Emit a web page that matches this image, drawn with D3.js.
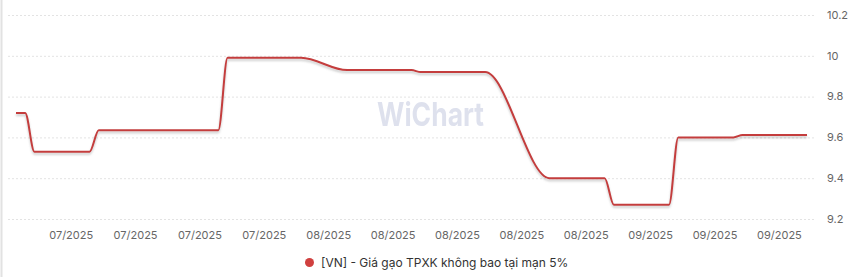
<!DOCTYPE html>
<html lang="vi">
<head>
<meta charset="UTF-8">
<script src="https://d3js.org/d3.v7.min.js"></script>
<style>
    body { margin: 0; background: #fff; font-family: Inter, Roboto, sans-serif; }
    .grid line { stroke: #e3e3e3; stroke-dasharray: 2,2; }
    .tick-label { fill: #666; font-size: 11px; }
</style>
<title>Giá gạo</title>
</head>
<body>
<svg id="chart"></svg>
<script>
    // ngày thay đổi giá
    var dates = ["2025-06-28", "2025-06-29", "2025-06-30", "2025-07-06", "2025-07-07",
        "2025-07-20", "2025-07-21", "2025-07-29", "2025-08-03", "2025-08-10",
        "2025-08-11", "2025-08-18", "2025-08-25", "2025-08-31", "2025-09-01",
        "2025-09-07", "2025-09-08", "2025-09-14", "2025-09-15", "2025-09-22"]
    var prices = [9.72, 9.72, 9.53, 9.53, 9.635,
        9.635, 9.99, 9.99, 9.93, 9.93,
        9.92, 9.92, 9.40, 9.40, 9.27,
        9.27, 9.60, 9.60, 9.612, 9.612]
    var xTicks = ["2025-07-04", "2025-07-11", "2025-07-18", "2025-07-25",
        "2025-08-01", "2025-08-08", "2025-08-15", "2025-08-22", "2025-08-29",
        "2025-09-05", "2025-09-12", "2025-09-19"]
    var yTicks = [9.2, 9.4, 9.6, 9.8, 10, 10.2]
    var seriesName = "[VN] - Giá gạo TPXK không bao tại mạn 5%"

    var width = 855, height = 277
    var parse = d3.timeParse("%Y-%m-%d")
    var data = dates.map(function (d, i) { return {date: parse(d), value: prices[i]} })

    var svg = d3.select("#chart").attr("width", width).attr("height", height)

    var defs = svg.append("defs")
    var f = defs.append("filter").attr("id", "shadow")
        .attr("x", "-5%").attr("y", "-20%").attr("width", "110%").attr("height", "140%")
    f.append("feDropShadow").attr("dx", 0).attr("dy", 2).attr("stdDeviation", 1)
        .attr("flood-color", "#777").attr("flood-opacity", 0.4)

    // viền trái
    svg.append("line").attr("x1", 1.5).attr("x2", 1.5).attr("y1", 0).attr("y2", height)
        .attr("stroke", "#e2e2e2").attr("stroke-width", 2)

    var x = d3.scaleTime()
        .domain([parse("2025-06-28"), parse("2025-09-22")])
        .range([16, 807])
    var y = d3.scaleLinear().domain([9.2, 10.2]).range([219, 15])

    // lưới ngang
    svg.append("g").attr("class", "grid")
        .selectAll("line").data(yTicks).enter().append("line")
        .attr("x1", 8).attr("x2", 815)
        .attr("y1", function (d) { return y(d) + 0.5 })
        .attr("y2", function (d) { return y(d) + 0.5 })

    // nhãn trục y
    svg.append("g").selectAll("text").data(yTicks).enter().append("text")
        .attr("class", "tick-label")
        .attr("x", 827)
        .attr("y", function (d) { return y(d) })
        .attr("dy", "0.35em")
        .text(function (d) { return d3.format("~g")(d) })

    // nhãn trục x
    var fmt = d3.timeFormat("%m/%Y")
    svg.append("g").selectAll("text").data(xTicks).enter().append("text")
        .attr("class", "tick-label")
        .attr("x", function (d) { return x(parse(d)) })
        .attr("y", 235)
        .attr("dy", "0.35em")
        .attr("text-anchor", "middle")
        .text(function (d) { return fmt(parse(d)) })

    // watermark
    svg.append("text")
        .attr("x", 377).attr("y", 126)
        .attr("textLength", 107).attr("lengthAdjust", "spacingAndGlyphs")
        .style("font-size", "33px").style("font-weight", "bold")
        .style("fill", "#d3d7e8").style("opacity", 0.75)
        .text("WiChart")

    // đường giá
    var line = d3.line()
        .x(function (d) { return x(d.date) })
        .y(function (d) { return y(d.value) })
        .curve(d3.curveMonotoneX)

    svg.append("path").datum(data)
        .attr("d", line)
        .attr("fill", "none")
        .attr("stroke", "#c43d3d")
        .attr("stroke-width", 2)
        .attr("filter", "url(#shadow)")

    // chú thích
    var lg = svg.append("g")
    lg.append("circle").attr("cx", 309.5).attr("cy", 262.5).attr("r", 4.5).attr("fill", "#d0403f")
    lg.append("text").attr("x", 321).attr("y", 262.5).attr("dy", "0.35em")
        .style("font-size", "12px").style("fill", "#333")
        .text(seriesName)
</script>
</body>
</html>
